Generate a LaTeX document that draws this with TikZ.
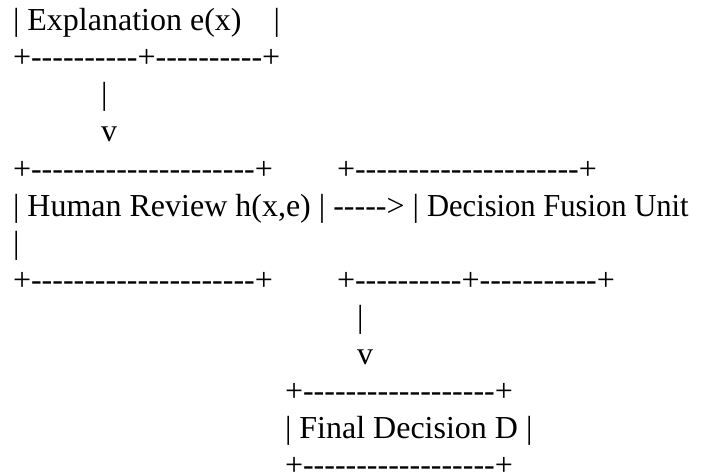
\documentclass[tikz,border=0pt]{standalone}
\usepackage{graphicx}
\usepackage{fontspec}
\setmainfont[Ligatures=TeXOff]{Liberation Serif}
\newcommand\spc[1]{\hspace*{#1\fontdimen2\font}}
\tikzset{
  txt/.style={anchor=base west, inner sep=0pt, outer sep=0pt,
    font=\fontsize{32pt}{37pt}\selectfont, text=black, text depth=0pt}
}
\begin{document}
\begin{tikzpicture}[x=1pt,y=1pt]
\path[use as bounding box, fill=white] (0,0) rectangle (710,-476);
% line pitch 37pt, first baseline at 31pt
\node[txt] (expl)   at (13,-31)  {| Explanation e(x)\spc{4}|};
\node[txt] (explb)  at (13,-68)  {+----------+----------+};
\node[txt] (bar1)   at (101,-105) {|};
\node[txt] (v1)     at (101,-142) {v};
\node[txt] (hrt)    at (13,-179) {+---------------------+};
\node[txt] (dft)    at (337,-179) {+---------------------+};
\node[txt] (hr)     at (13,-216) {| Human Review h(x,e) | -----> |};
\node[txt] (df)     at (427,-216) {\scalebox{0.956}[1]{Decision Fusion Unit}};
\node[txt] (wrap)   at (13,-253) {|};
\node[txt] (hrb)    at (13,-290) {+---------------------+};
\node[txt] (dfb)    at (337,-290) {+----------+-----------+};
\node[txt] (bar2)   at (357,-327) {|};
\node[txt] (v2)     at (357,-364) {v};
\node[txt] (fdt)    at (285,-401) {+------------------+};
\node[txt] (fd)     at (285,-438) {| Final Decision D |};
\node[txt] (fdb)    at (285,-475) {+------------------+};
\end{tikzpicture}
\end{document}
